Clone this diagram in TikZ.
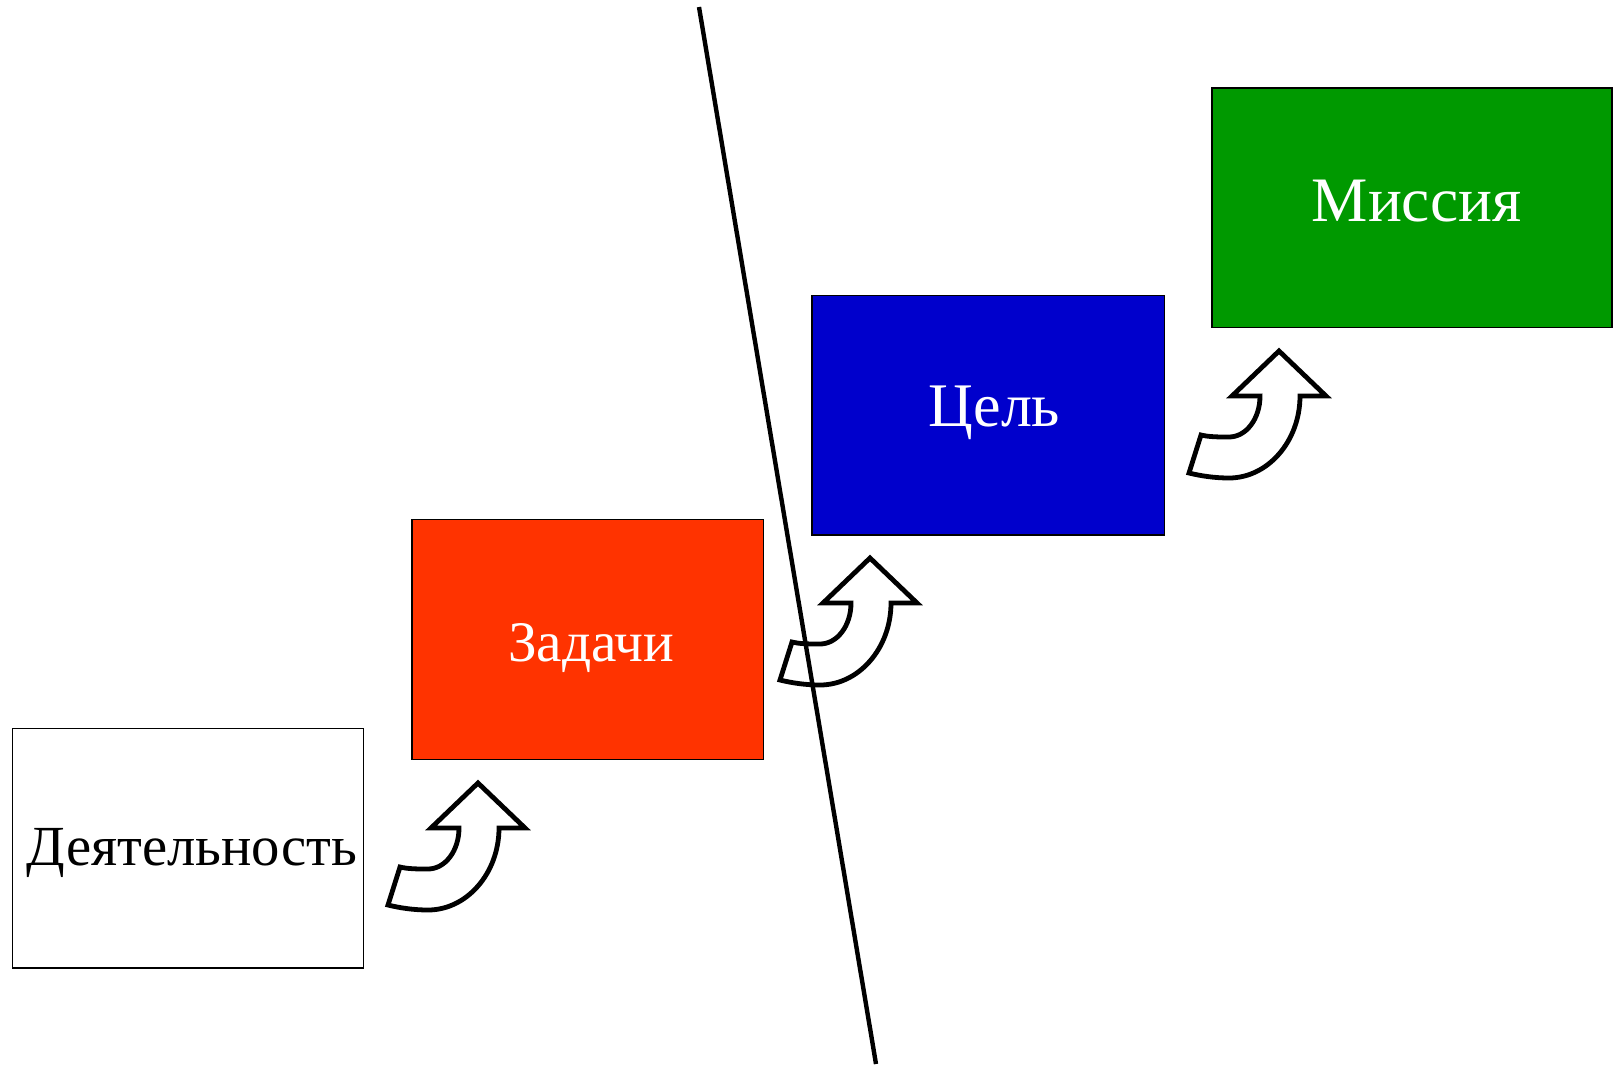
\documentclass[tikz,border=0pt]{standalone}
\usepackage{fontspec}
\setmainfont{Liberation Serif}
\definecolor{zred}{HTML}{FF3300}
\definecolor{cblue}{HTML}{0000CC}
\definecolor{mgreen}{HTML}{009900}
\begin{document}
\begin{tikzpicture}[x=0.75pt,y=-0.75pt,
  box/.style={draw=black,line width=1.1pt,rectangle,inner sep=0pt,minimum height=179.8pt},
  lbl/.style={anchor=base,inner sep=0pt},
  arrowstyle/.style={draw=black,fill=white,line width=3.6pt,line join=miter},
  curvarrow/.pic={
    \path[arrowstyle] (0,0) -- (47,45) -- (21,45)
      .. controls (21,90) and (-11,127) .. (-50,127)
      .. controls (-64,127) and (-78,125) .. (-90,122)
      -- (-78,84)
      .. controls (-70,86) and (-60,86) .. (-50,86)
      .. controls (-33,86) and (-19,68) .. (-19,45)
      -- (-47,45) -- cycle;
  }]
\useasboundingbox[fill=white] (0,0) rectangle (1620,1064);
% boxes
\node[box,fill=white,minimum width=263.5pt] (b1) at (188.05,848.25) {};
\node[box,fill=zred,minimum width=263.5pt] (b2) at (587.85,639.55) {};
\node[box,fill=cblue,minimum width=264.2pt] (b3) at (988.25,415.35) {};
\node[box,fill=mgreen,minimum width=299.9pt] (b4) at (1411.9,207.65) {};
% labels
\node[lbl,font=\fontsize{42.5}{52}\selectfont] (t1) at (192,865) {Деятельность};
\node[lbl,text=white,font=\fontsize{43}{52}\selectfont] (t2) at (591,661.7) {Задачи};
\node[lbl,text=white,font=\fontsize{46.5}{56}\selectfont] (t3) at (994.5,426.7) {Цель};
\node[lbl,text=white,font=\fontsize{47.5}{56}\selectfont] (t4) at (1416.5,221.7) {Миссия};
% curved arrows
\pic (a1) at (478,783) {curvarrow};
\pic (a2) at (870,558) {curvarrow};
\pic (a3) at (1279,351) {curvarrow};
% divider line
\coordinate (ltop) at (699,7);
\coordinate (lbot) at (876,1064);
\draw[line width=3.3pt] (ltop) -- (lbot);
\end{tikzpicture}
\end{document}
